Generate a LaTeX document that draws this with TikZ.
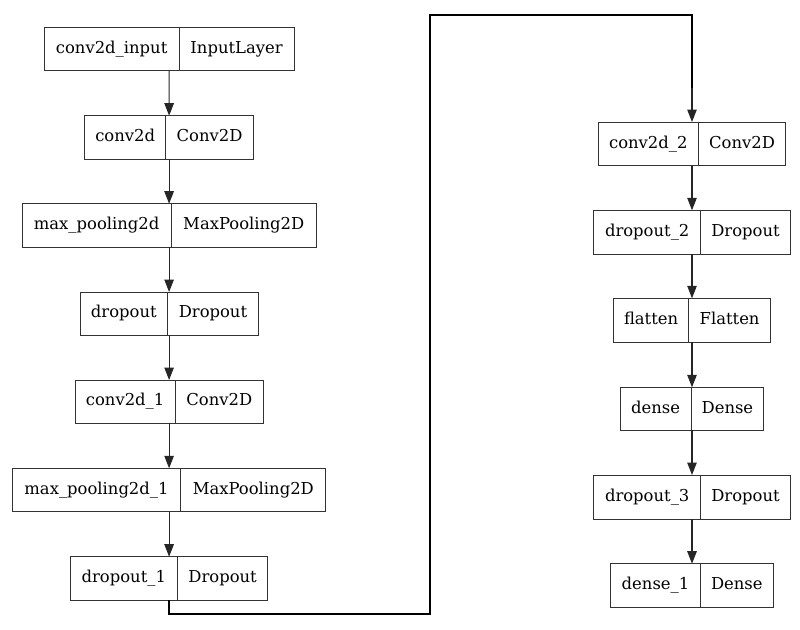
\documentclass[tikz,border=0pt]{standalone}
\usepackage{fontspec}
\setmainfont{DejaVu Serif}
\usetikzlibrary{arrows.meta}
\tikzset{
  boxline/.style={draw=black!80, line width=1pt},
  layerbox/.style={boxline, inner sep=0pt, outer sep=0pt, rectangle},
  txt/.style={inner sep=0pt, font=\fontsize{16.4}{19}\selectfont, text height=11.9pt, text depth=3.5pt},
  arr/.style={draw=black!85, line width=1.1pt, -{Triangle[length=12.5pt,width=9.5pt]}},
  link/.style={draw=black, line width=1.8pt}
}
\newcommand\mylayer[8]{%
  \node[layerbox, minimum width={#3pt-#2pt}, minimum height={#6pt-#5pt}] (#1) at ({(#2+#3)/2},{(#5+#6)/2}) {};
  \node[txt] (#1a) at ({(#2+#4)/2},{(#5+#6)/2}) {#7};
  \node[txt] (#1b) at ({(#4+#3)/2},{(#5+#6)/2}) {#8};
  \draw[boxline] (#4,#5) -- (#4,#6);
}
\begin{document}
\begin{tikzpicture}[x=1pt,y=-1pt]
\useasboundingbox (0,0) rectangle (800,629);
\mylayer{L1}{44.3}{294.1}{179}{27.3}{70.7}{conv2d\_input}{InputLayer}
\mylayer{L2}{84.7}{253.5}{165.7}{115.7}{159}{conv2d}{Conv2D}
\mylayer{L3}{22}{316.2}{171.3}{203.7}{247.3}{max\_pooling2d}{MaxPooling2D}
\mylayer{L4}{80}{258.2}{167.7}{292}{335.3}{dropout}{Dropout}
\mylayer{L5}{75}{263.2}{175.3}{380}{423.3}{conv2d\_1}{Conv2D}
\mylayer{L6}{12.3}{325.9}{180.7}{468.3}{511.7}{max\_pooling2d\_1}{MaxPooling2D}
\mylayer{L7}{70.3}{267.9}{177.3}{556.7}{600}{dropout\_1}{Dropout}
\mylayer{R1}{598.3}{785.7}{698.3}{122}{165.7}{conv2d\_2}{Conv2D}
\mylayer{R2}{593.7}{790.3}{700.7}{210.3}{254.3}{dropout\_2}{Dropout}
\mylayer{R3}{613.5}{770.5}{688.7}{298.3}{342.3}{flatten}{Flatten}
\mylayer{R4}{620.2}{763.8}{691}{387.3}{430.3}{dense}{Dense}
\mylayer{R5}{593.7}{790.3}{700.7}{475}{519}{dropout\_3}{Dropout}
\mylayer{R6}{610.7}{773.3}{700.3}{563.7}{607.3}{dense\_1}{Dense}
\draw[arr] (L1) -- (L2);
\draw[arr] (L2) -- (L3);
\draw[arr] (L3) -- (L4);
\draw[arr] (L4) -- (L5);
\draw[arr] (L5) -- (L6);
\draw[arr] (L6) -- (L7);
\draw[arr] (R1) -- (R2);
\draw[arr] (R2) -- (R3);
\draw[arr] (R3) -- (R4);
\draw[arr] (R4) -- (R5);
\draw[arr] (R5) -- (R6);
\coordinate (c1) at (430.3,614.3);
\coordinate (c2) at (430.3,15);
\coordinate (c3) at (692,88);
\draw[link, line join=miter] (L7.south) |- (c1) -- (c2) -| (c3);
\draw[arr] (c3) -- (R1);
\end{tikzpicture}
\end{document}
